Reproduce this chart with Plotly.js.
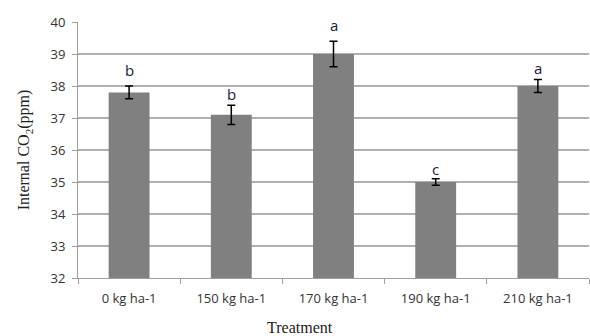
<!DOCTYPE html>
<html>
<head>
<meta charset="utf-8">
<script src="https://cdn.plot.ly/plotly-3.0.1.min.js"></script>
<style>html,body{margin:0;padding:0;background:#fff;}#chart{width:590px;height:336px;}</style>
</head>
<body>
<div id="chart"></div>
<script>
const categories = ['0 kg ha-1', '150 kg ha-1', '170 kg ha-1', '190 kg ha-1', '210 kg ha-1'];
const internalCO2 = [37.8, 37.1, 39.0, 35.0, 38.0];
const errors = [0.2, 0.3, 0.4, 0.1, 0.2];
const letters = ['b', 'b', 'a', 'c', 'a'];
const letterY = [38.44, 37.69, 39.83, 35.34, 38.5];
const yTicks = [32, 33, 34, 35, 36, 37, 38, 39, 40];

const bars = {
  type: 'bar',
  x: categories,
  y: internalCO2,
  base: 0,
  marker: {color: '#808080', line: {width: 0}},
  error_y: {type: 'data', array: errors, visible: true, color: '#000000', thickness: 1.5, width: 4},
  hoverinfo: 'skip'
};

const annotations = categories.map((c, i) => ({
  x: c,
  y: letterY[i],
  text: letters[i],
  showarrow: false,
  yanchor: 'middle',
  yshift: 2,
  bgcolor: letterY[i] > 39.5 ? '#ffffff' : 'rgba(0,0,0,0)',
  borderpad: 0,
  font: {family: 'Open Sans, Arial, sans-serif', size: 15, color: '#1a1a3a'}
}));

annotations.push({
  xref: 'paper', yref: 'paper',
  x: (300 - 78) / 511, y: -0.195,
  xanchor: 'center', yanchor: 'middle',
  text: 'Treatment',
  showarrow: false,
  font: {family: 'Liberation Serif, Times New Roman, serif', size: 16, color: '#222222'}
});

const layout = {
  width: 590,
  height: 336,
  margin: {l: 78, r: 1, t: 22, b: 58},
  paper_bgcolor: '#ffffff',
  plot_bgcolor: '#ffffff',
  showlegend: false,
  bargap: 0.6,
  xaxis: {
    type: 'category',
    showgrid: false,
    showline: true,
    linecolor: '#a0a0a0',
    linewidth: 1,
    ticks: 'outside',
    ticklen: 5,
    tickcolor: '#a0a0a0',
    tickson: 'boundaries',
    ticklabelstandoff: 8,
    tickfont: {family: 'Open Sans, Arial, sans-serif', size: 13, color: '#333333'},
    zeroline: false
  },
  yaxis: {
    range: [32, 40],
    tickvals: yTicks,
    showgrid: true,
    gridcolor: '#b0b0b0',
    gridwidth: 1.5,
    showline: true,
    linecolor: '#a0a0a0',
    linewidth: 1,
    ticks: 'outside',
    ticklen: 5,
    tickcolor: '#a0a0a0',
    ticklabelstandoff: 4,
    tickfont: {family: 'Open Sans, Arial, sans-serif', size: 13, color: '#333333'},
    title: {text: 'Internal CO<sub>2</sub>(ppm)', font: {family: 'Liberation Serif, Times New Roman, serif', size: 16, color: '#222222'}, standoff: 16},
    zeroline: false
  },
  annotations: annotations
};

Plotly.newPlot('chart', [bars], layout, {displayModeBar: false, staticPlot: true});
</script>
</body>
</html>
